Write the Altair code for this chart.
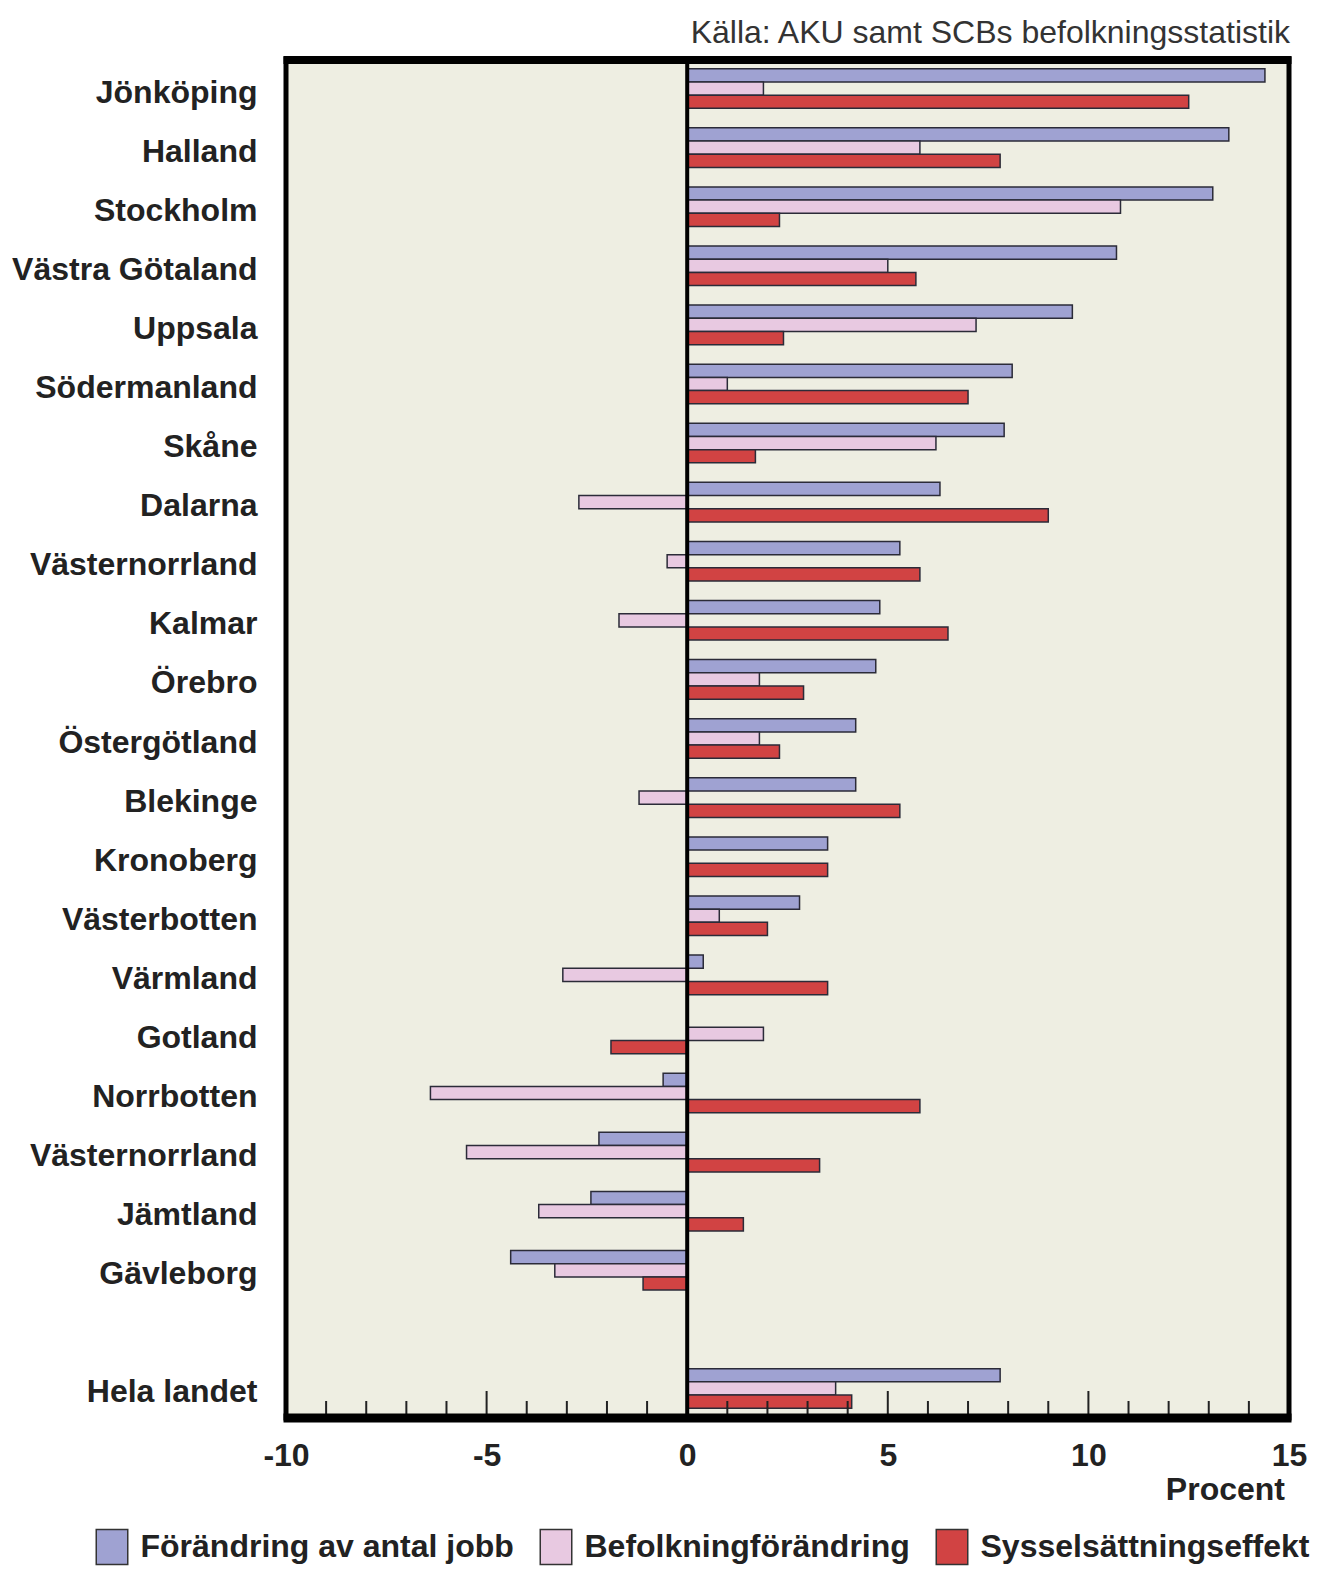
import json
import altair as alt
import pandas as pd

# ---- data ----
labels = ["Jönköping", "Halland", "Stockholm", "Västra Götaland", "Uppsala",
          "Södermanland", "Skåne", "Dalarna", "Västernorrland", "Kalmar",
          "Örebro", "Östergötland", "Blekinge", "Kronoberg", "Västerbotten",
          "Värmland", "Gotland", "Norrbotten", "Västernorrland", "Jämtland",
          "Gävleborg", "", "Hela landet"]

jobs = [14.4, 13.5, 13.1, 10.7, 9.6, 8.1, 7.9, 6.3, 5.3, 4.8, 4.7, 4.2, 4.2,
        3.5, 2.8, 0.4, 0.0, -0.6, -2.2, -2.4, -4.4, 7.8]
pop = [1.9, 5.8, 10.8, 5.0, 7.2, 1.0, 6.2, -2.7, -0.5, -1.7, 1.8, 1.8, -1.2,
       0.0, 0.8, -3.1, 1.9, -6.4, -5.5, -3.7, -3.3, 3.7]
syss = [12.5, 7.8, 2.3, 5.7, 2.4, 7.0, 1.7, 9.0, 5.8, 6.5, 2.9, 2.3, 5.3,
        3.5, 2.0, 3.5, -1.9, 5.8, 3.3, 1.4, -1.1, 4.1]

series = ["Förändring av antal jobb", "Befolkningförändring", "Sysselsättningseffekt"]
colors = ["#9FA2D2", "#E8C9E1", "#D14343"]

x_label_values = [-10, -5, 0, 5, 10, 15]
major_ticks = [-5, 5, 10]
minor_ticks = [v for v in range(-9, 15) if v % 5 != 0]

source_text = "Källa: AKU samt SCBs befolkningsstatistik"
unit_text = "Procent"

FONT = "Liberation Sans, Arial, Helvetica, sans-serif"
W, H = 1003, 1359

rows = []
k = 0
for i, lab in enumerate(labels):
    if lab == "":
        continue
    for s, vals in zip(series, (jobs, pop, syss)):
        rows.append({"row": i, "series": s, "value": vals[k]})
    k += 1
df = pd.DataFrame(rows)

xscale = alt.Scale(domain=[-10, 15], nice=False, zero=False)
xaxis = alt.Axis(values=x_label_values, ticks=False, domain=False, grid=False,
                 labelExpr="'' + datum.value",
                 labelFontSize=32, labelFontWeight="bold", labelColor="#222",
                 labelFont=FONT, labelPadding=22, labelFlush=False, title=None)

bars = alt.Chart(df).mark_bar(stroke="#2b2b38", strokeWidth=1.5).encode(
    x=alt.X("value:Q", scale=xscale, axis=xaxis),
    y=alt.Y("row:O",
            scale=alt.Scale(domain=list(range(len(labels))), paddingInner=0.33, paddingOuter=0.165),
            axis=alt.Axis(labelExpr=json.dumps(labels, ensure_ascii=False) + "[datum.value]",
                          ticks=False, domain=False, grid=False, labelFontSize=32,
                          labelFontWeight="bold", labelColor="#222", labelFont=FONT,
                          labelPadding=29, labelLimit=0, labelOffset=4, title=None)),
    yOffset=alt.YOffset("series:N", sort=series,
                        scale=alt.Scale(paddingInner=0, paddingOuter=0)),
    color=alt.Color("series:N", sort=series,
                    scale=alt.Scale(domain=series, range=colors),
                    legend=alt.Legend(orient="none", legendX=-192.5, legendY=1469.5,
                                      direction="horizontal", title=None,
                                      symbolType="M-0.9,-1H0.9V1H-0.9Z", symbolSize=1225,
                                      symbolStrokeColor="#333", symbolStrokeWidth=1.5,
                                      symbolOpacity=1, labelFontSize=32, labelFontWeight="bold",
                                      labelFont=FONT, labelColor="#222", labelOffset=10,
                                      columnPadding=22, padding=0, labelLimit=0)),
)

zero_line = alt.Chart(pd.DataFrame({"value": [0]})).mark_rule(
    color="black", strokeWidth=4).encode(
    x=alt.X("value:Q", scale=xscale, axis=xaxis),
    y=alt.value(0), y2=alt.value(H))

minor = alt.Chart(pd.DataFrame({"value": minor_ticks})).mark_rule(
    color="#222", strokeWidth=2).encode(
    x=alt.X("value:Q", scale=xscale, axis=xaxis),
    y=alt.value(H), y2=alt.value(H - 17))

major = alt.Chart(pd.DataFrame({"value": major_ticks})).mark_rule(
    color="#222", strokeWidth=2).encode(
    x=alt.X("value:Q", scale=xscale, axis=xaxis),
    y=alt.value(H), y2=alt.value(H - 27))

frame = alt.Chart(pd.DataFrame({"f": [0]})).mark_rule(color="black", strokeWidth=9).encode(
    x=alt.value(-2.5), x2=alt.value(W + 2.5), y=alt.value(H))
frame_top = alt.Chart(pd.DataFrame({"f": [0]})).mark_rule(color="black", strokeWidth=8).encode(
    x=alt.value(-2.5), x2=alt.value(W + 2.5), y=alt.value(1))

src = alt.Chart(pd.DataFrame({"t": [source_text]})).mark_text(
    align="right", baseline="alphabetic", fontSize=32, font=FONT, color="#333").encode(
    text="t:N", x=alt.value(W + 1), y=alt.value(-16))

unit = alt.Chart(pd.DataFrame({"t": [unit_text]})).mark_text(
    align="right", baseline="alphabetic", fontSize=32, fontWeight="bold", font=FONT, color="#222").encode(
    text="t:N", x=alt.value(W - 4), y=alt.value(1441))

chart = alt.layer(bars, zero_line, minor, major, frame, frame_top, src, unit).properties(
    width=W, height=H,
    autosize=alt.AutoSizeParams(type="none"),
    padding={"left": 278, "top": 51, "right": 1308 - 278 - W, "bottom": 1559 - 51 - H},
    background="white",
).configure(font=FONT).configure_view(fill="#EEEEE2", stroke="black", strokeWidth=5)

chart.save("out.html", embed_options={"renderer": "svg", "actions": False})
